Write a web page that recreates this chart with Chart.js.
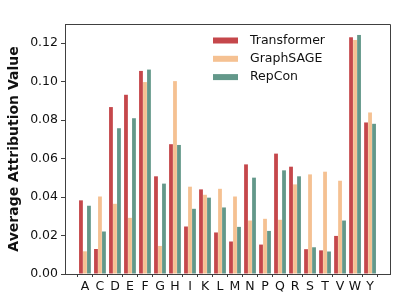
<!DOCTYPE html>
<html>
<head>
<meta charset="utf-8">
<script src="https://cdn.jsdelivr.net/npm/chart.js@4.4.0/dist/chart.umd.min.js"></script>
<style>
	html, body { margin: 0; padding: 0; background: #fff; }
	#wrap { width: 407px; height: 305px; }
</style>
</head>
<body>
<div id="wrap"><canvas id="myChart"></canvas></div>
<script>
// amino acids on the x axis
var residues = ["A", "C", "D", "E", "F", "G", "H", "I", "K", "L", "M", "N", "P", "Q", "R", "S", "T", "V", "W", "Y"];
var transformer = [0.0383, 0.0130, 0.0868, 0.0932, 0.1056, 0.0508, 0.0675, 0.0247, 0.0440, 0.0216, 0.0169, 0.0570, 0.0153, 0.0626, 0.0558, 0.0129, 0.0123, 0.0198, 0.1231, 0.0788];
var graphsage = [0.0118, 0.0403, 0.0365, 0.0292, 0.0998, 0.0146, 0.1003, 0.0454, 0.0412, 0.0443, 0.0403, 0.0278, 0.0287, 0.0282, 0.0466, 0.0518, 0.0532, 0.0485, 0.1217, 0.0840];
var repcon = [0.0355, 0.0221, 0.0758, 0.0810, 0.1063, 0.0470, 0.0671, 0.0339, 0.0397, 0.0346, 0.0245, 0.0501, 0.0224, 0.0539, 0.0508, 0.0139, 0.0117, 0.0278, 0.1243, 0.0781];
var yTicks = [0, 0.02, 0.04, 0.06, 0.08, 0.10, 0.12];

function pts(arr) {
	return arr.map(function (v, i) { return { x: i, y: v }; });
}

// legend inside the axes, top right, plus the top/right frame lines
var boxLegend = {
	id: 'boxLegend',
	afterDraw: function (chart) {
		var c = chart.ctx, a = chart.chartArea;
		c.save();
		c.strokeStyle = '#404040';
		c.lineWidth = 1;
		c.beginPath();
		c.moveTo(a.left, a.top + 0.5);
		c.lineTo(a.right + 0.5, a.top + 0.5);
		c.lineTo(a.right + 0.5, a.bottom);
		c.stroke();
		c.font = '12.5px "DejaVu Sans"';
		c.textBaseline = 'middle';
		chart.data.datasets.forEach(function (ds, i) {
			var y = a.top + 16.5 + i * 18.3;
			c.fillStyle = ds.backgroundColor;
			c.fillRect(a.left + 148, y - 3, 25, 6);
			c.fillStyle = '#111';
			c.fillText(ds.label, a.left + 185, y);
		});
		c.restore();
	}
};

var ctx = document.getElementById("myChart").getContext('2d');
var myChart = new Chart(ctx, {
	type: 'bar',
	data: {
		datasets: [
			{ label: "Transformer", data: pts(transformer), backgroundColor: "#c5474b" },
			{ label: "GraphSAGE", data: pts(graphsage), backgroundColor: "#f5c192" },
			{ label: "RepCon", data: pts(repcon), backgroundColor: "#63988a" }
		]
	},
	options: {
		responsive: true,
		maintainAspectRatio: false,
		animation: false,
		layout: { padding: { left: 0, right: 17, top: 24, bottom: 0 } },
		datasets: { bar: { categoryPercentage: 0.8, barPercentage: 0.95 } },
		plugins: {
			legend: { display: false },
			tooltip: { enabled: false }
		},
		scales: {
			x: {
				type: 'linear',
				min: -1.33,
				max: 20.33,
				offset: false,
				grid: { drawOnChartArea: false, drawTicks: true, tickLength: 3, color: '#404040' },
				border: { color: '#404040', width: 1 },
				afterBuildTicks: function (scale) {
					scale.ticks = residues.map(function (r, i) { return { value: i }; });
				},
				afterFit: function (scale) { scale.height = 31; },
				ticks: {
					autoSkip: false,
					maxRotation: 0,
					padding: 2,
					color: '#111',
					font: { family: 'DejaVu Sans', size: 12.5 },
					callback: function (v) { return residues[v]; }
				}
			},
			y: {
				min: 0,
				max: 0.13,
				grid: { drawOnChartArea: false, drawTicks: true, tickLength: 4, color: '#404040' },
				border: { color: '#404040', width: 1 },
				afterBuildTicks: function (scale) {
					scale.ticks = yTicks.map(function (v) { return { value: v }; });
				},
				afterFit: function (scale) { scale.width = 65; },
				title: {
					display: true,
					text: 'Average Attribution Value',
					color: '#111',
					font: { family: 'DejaVu Sans', size: 14, weight: 'bold' },
					padding: { top: 6, bottom: 0 }
				},
				ticks: {
					padding: 3,
					color: '#111',
					font: { family: 'DejaVu Sans', size: 12.5 },
					callback: function (v) { return v.toFixed(2); }
				}
			}
		}
	},
	plugins: [boxLegend]
});
</script>
</body>
</html>
